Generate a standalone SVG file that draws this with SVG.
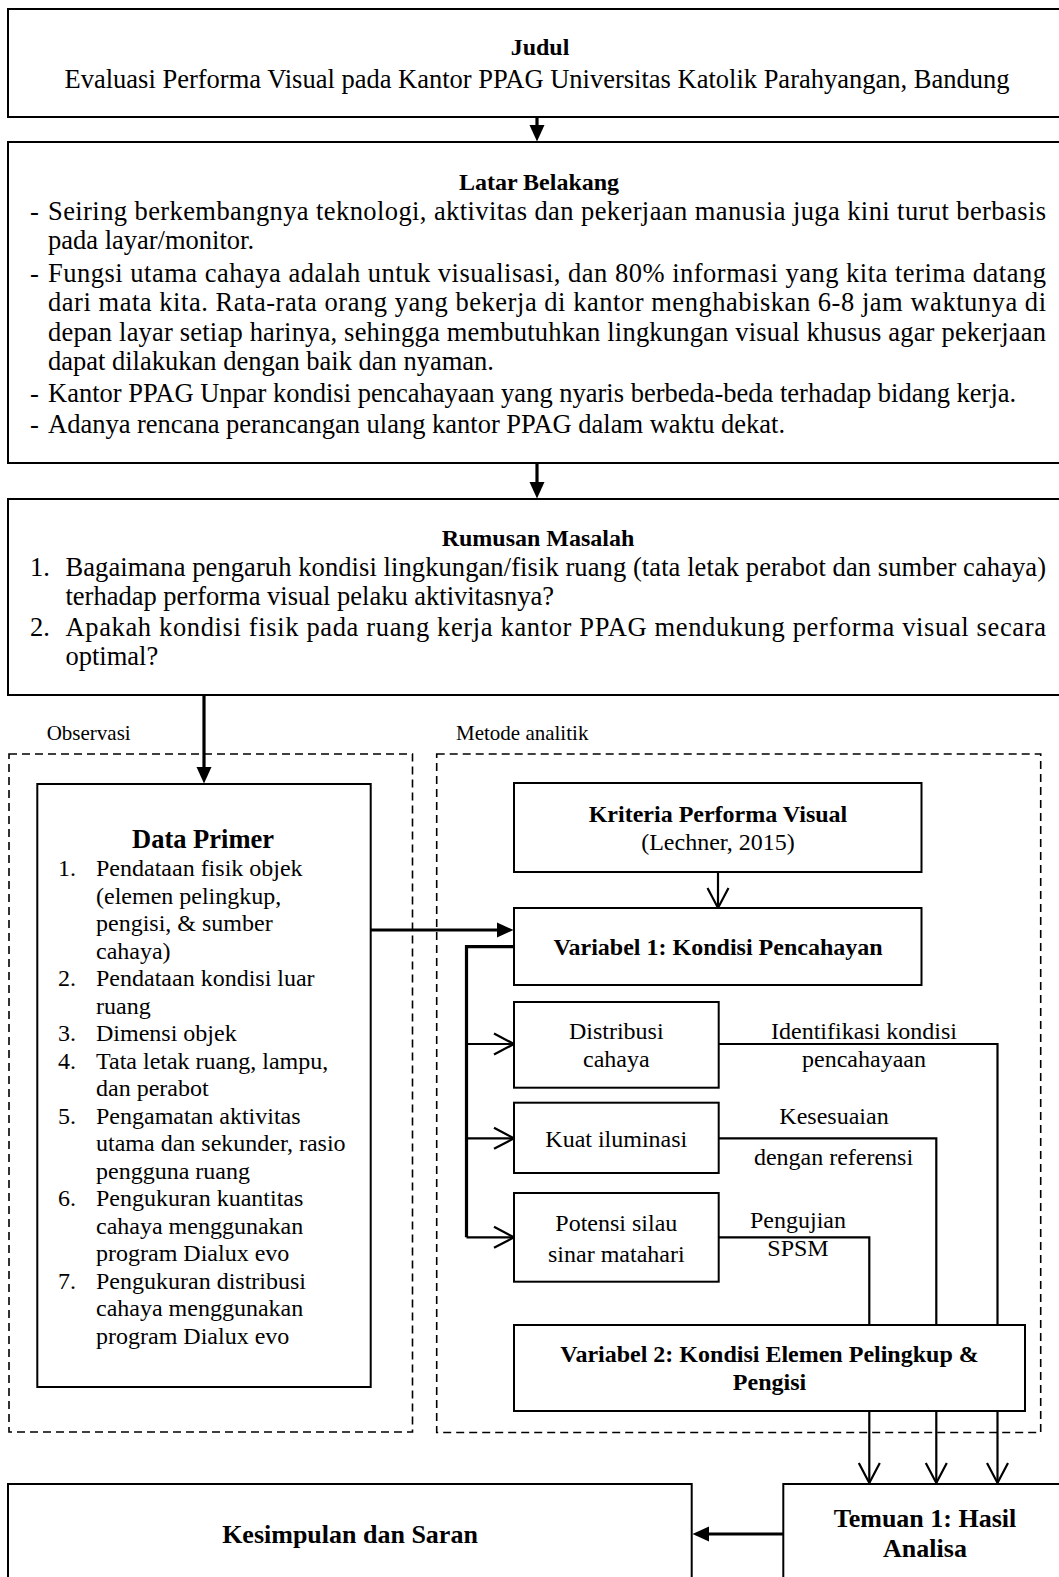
<svg xmlns="http://www.w3.org/2000/svg" width="1059" height="1577" viewBox="0 0 1059 1577">
<defs>
<style>
text{font-family:"Liberation Serif","Times New Roman",serif;fill:#000}
.b{font-weight:bold}
.h{font-size:24px;font-weight:bold;text-anchor:middle}
.body{font-size:26.5px}
.n{font-size:24px}
.c{text-anchor:middle}
.box{fill:#fff;stroke:#000;stroke-width:2}
.dash{fill:none;stroke:#000;stroke-width:1.6;stroke-dasharray:8 5}
.thick{fill:none;stroke:#000;stroke-width:3.2}
.thin{fill:none;stroke:#000;stroke-width:2.2}
.lbl{font-size:21px}
</style>
<marker id="fa" markerUnits="userSpaceOnUse" markerWidth="17" markerHeight="16" refX="9" refY="8" orient="auto" viewBox="0 0 17 16">
<path d="M0,0.5 L16.5,8 L0,15.5 z" fill="#000"/>
</marker>
<marker id="oa" markerUnits="userSpaceOnUse" markerWidth="24" markerHeight="26" refX="21" refY="12" orient="auto" viewBox="0 0 24 26">
<path d="M1,1.5 L21,12 L1,22.5" fill="none" stroke="#000" stroke-width="2.2"/>
</marker>
</defs>
<rect width="1059" height="1577" fill="#fff"/>

<g id="groups">
<rect class="dash" x="9" y="754" width="403.5" height="678"/>
<rect class="dash" x="436.7" y="754" width="604" height="678.5"/>
<text class="lbl" x="46.7" y="740">Observasi</text>
<text class="lbl" x="456" y="740">Metode analitik</text>
</g>

<g id="connectors">
<path class="thick" d="M537,117 V134" marker-end="url(#fa)"/>
<path class="thick" d="M537,463 V491" marker-end="url(#fa)"/>
<path class="thick" d="M204,695 V776" marker-end="url(#fa)"/>
<path class="thick" d="M371,930 H506" marker-end="url(#fa)"/>
<path class="thin" d="M718,872 V908" marker-end="url(#oa)"/>
<path class="thick" d="M514,946.7 H466.5 V1237.3"/>
<path class="thin" d="M466.5,1044 H514" marker-end="url(#oa)"/>
<path class="thin" d="M466.5,1138.3 H514" marker-end="url(#oa)"/>
<path class="thin" d="M466.5,1237.3 H514" marker-end="url(#oa)"/>
<path class="thin" d="M718.7,1044 H997.5 V1483" marker-end="url(#oa)"/>
<path class="thin" d="M718.7,1138.3 H936.3 V1483" marker-end="url(#oa)"/>
<path class="thin" d="M718.7,1237.3 H869.3 V1483" marker-end="url(#oa)"/>
<path class="thick" d="M783.3,1534 H700" marker-end="url(#fa)"/>
<text class="n c" x="864" y="1039">Identifikasi kondisi</text>
<text class="n c" x="864" y="1067">pencahayaan</text>
<text class="n c" x="834" y="1124">Kesesuaian</text>
<text class="n c" x="833.5" y="1165">dengan referensi</text>
<text class="n c" x="798" y="1228">Pengujian</text>
<text class="n c" x="798" y="1256">SPSM</text>
</g>

<g id="judul">
<rect class="box" x="8" y="9" width="1065" height="108"/>
<text class="h" x="540" y="55">Judul</text>
<text class="body c" x="537" y="87.5">Evaluasi Performa Visual pada Kantor PPAG Universitas Katolik Parahyangan, Bandung</text>
</g>

<g id="latar-belakang">
<rect class="box" x="8" y="142" width="1065" height="321"/>
<text class="h" x="539" y="190">Latar Belakang</text>
<g class="body">
<text x="30" y="220">-</text>
<text x="48" y="220" textLength="998" lengthAdjust="spacing">Seiring berkembangnya teknologi, aktivitas dan pekerjaan manusia juga kini turut berbasis</text>
<text x="48" y="248.5">pada layar/monitor.</text>
<text x="30" y="281.5">-</text>
<text x="48" y="281.5" textLength="998" lengthAdjust="spacing">Fungsi utama cahaya adalah untuk visualisasi, dan 80% informasi yang kita terima datang</text>
<text x="48" y="311" textLength="998" lengthAdjust="spacing">dari mata kita. Rata-rata orang yang bekerja di kantor menghabiskan 6-8 jam waktunya di</text>
<text x="48" y="340.5" textLength="998" lengthAdjust="spacing">depan layar setiap harinya, sehingga membutuhkan lingkungan visual khusus agar pekerjaan</text>
<text x="48" y="369.5">dapat dilakukan dengan baik dan nyaman.</text>
<text x="30" y="402">-</text>
<text x="48" y="402">Kantor PPAG Unpar kondisi pencahayaan yang nyaris berbeda-beda terhadap bidang kerja.</text>
<text x="30" y="432.5">-</text>
<text x="48" y="432.5">Adanya rencana perancangan ulang kantor PPAG dalam waktu dekat.</text>
</g>
</g>

<g id="rumusan-masalah">
<rect class="box" x="8" y="499" width="1065" height="196"/>
<text class="h" x="538" y="545.5">Rumusan Masalah</text>
<g class="body">
<text x="30" y="575.5">1.</text>
<text x="65.5" y="575.5" textLength="980.5" lengthAdjust="spacing">Bagaimana pengaruh kondisi lingkungan/fisik ruang (tata letak perabot dan sumber cahaya)</text>
<text x="65.5" y="604.5">terhadap performa visual pelaku aktivitasnya?</text>
<text x="30" y="635.5">2.</text>
<text x="65.5" y="635.5" textLength="980.5" lengthAdjust="spacing">Apakah kondisi fisik pada ruang kerja kantor PPAG mendukung performa visual secara</text>
<text x="65.5" y="664.5">optimal?</text>
</g>
</g>

<g id="data-primer">
<rect class="box" x="37.3" y="784" width="333.4" height="603"/>
<text class="b c" x="203" y="848" font-size="26.5">Data Primer</text>
<g class="n">
<text x="58" y="876">1.</text>
<text x="96" y="876">Pendataan fisik objek</text>
<text x="96" y="903.5">(elemen pelingkup,</text>
<text x="96" y="931">pengisi, &amp; sumber</text>
<text x="96" y="958.5">cahaya)</text>
<text x="58" y="986">2.</text>
<text x="96" y="986">Pendataan kondisi luar</text>
<text x="96" y="1013.5">ruang</text>
<text x="58" y="1041">3.</text>
<text x="96" y="1041">Dimensi objek</text>
<text x="58" y="1068.5">4.</text>
<text x="96" y="1068.5">Tata letak ruang, lampu,</text>
<text x="96" y="1096">dan perabot</text>
<text x="58" y="1123.5">5.</text>
<text x="96" y="1123.5">Pengamatan aktivitas</text>
<text x="96" y="1151">utama dan sekunder, rasio</text>
<text x="96" y="1178.5">pengguna ruang</text>
<text x="58" y="1206">6.</text>
<text x="96" y="1206">Pengukuran kuantitas</text>
<text x="96" y="1233.5">cahaya menggunakan</text>
<text x="96" y="1261">program Dialux evo</text>
<text x="58" y="1288.5">7.</text>
<text x="96" y="1288.5">Pengukuran distribusi</text>
<text x="96" y="1316">cahaya menggunakan</text>
<text x="96" y="1343.5">program Dialux evo</text>
</g>
</g>

<g id="kriteria">
<rect class="box" x="514" y="783" width="407.5" height="89"/>
<text class="h" x="718" y="822">Kriteria Performa Visual</text>
<text class="n c" x="718" y="850">(Lechner, 2015)</text>
</g>

<g id="variabel-1">
<rect class="box" x="514" y="908" width="407.5" height="77"/>
<text class="h" x="718" y="955">Variabel 1: Kondisi Pencahayan</text>
</g>

<g id="distribusi">
<rect class="box" x="514" y="1002" width="204.7" height="85.7"/>
<text class="n c" x="616.3" y="1039">Distribusi</text>
<text class="n c" x="616.3" y="1067">cahaya</text>
</g>

<g id="kuat-iluminasi">
<rect class="box" x="514" y="1102.7" width="204.7" height="70.3"/>
<text class="n c" x="616.3" y="1147">Kuat iluminasi</text>
</g>

<g id="potensi-silau">
<rect class="box" x="514" y="1193" width="204.7" height="88.7"/>
<text class="n c" x="616.3" y="1231">Potensi silau</text>
<text class="n c" x="616.3" y="1262">sinar matahari</text>
</g>

<g id="variabel-2">
<rect class="box" x="514" y="1325" width="511" height="86"/>
<text class="h" x="769.5" y="1362">Variabel 2: Kondisi Elemen Pelingkup &amp;</text>
<text class="h" x="769.5" y="1390">Pengisi</text>
</g>

<g id="temuan">
<rect class="box" x="783.3" y="1484" width="290" height="110"/>
<text class="b c" x="925" y="1527" font-size="26">Temuan 1: Hasil</text>
<text class="b c" x="925" y="1557" font-size="26">Analisa</text>
</g>

<g id="kesimpulan">
<rect class="box" x="8" y="1484" width="683.7" height="110"/>
<text class="b c" x="350" y="1543" font-size="26">Kesimpulan dan Saran</text>
</g>
</svg>
